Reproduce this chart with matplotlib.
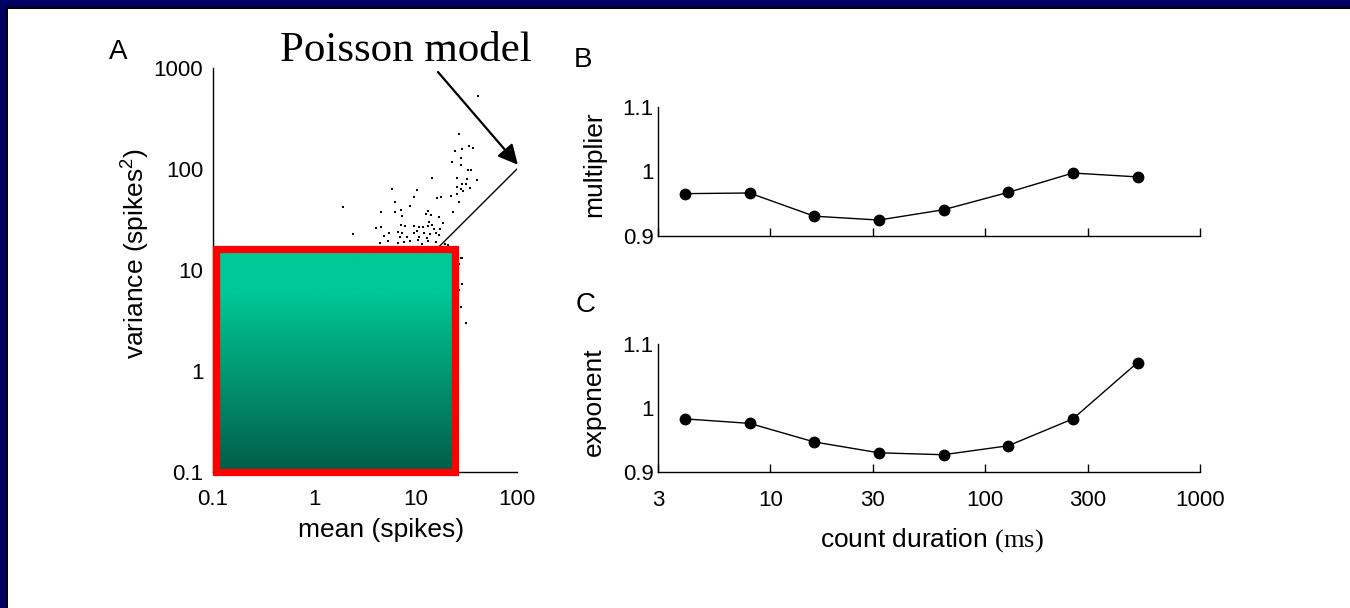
import numpy as np
import matplotlib
matplotlib.use('Agg')
import matplotlib.pyplot as plt
from matplotlib.patches import Rectangle
from matplotlib.ticker import NullFormatter

plt.rcParams['font.family'] = ['Liberation Sans', 'DejaVu Sans']
plt.rcParams['mathtext.fontset'] = 'custom'
plt.rcParams['mathtext.rm'] = 'Liberation Serif'
plt.rcParams['mathtext.sf'] = 'Liberation Sans'

# panel A: mean vs variance of spike counts (visible points only)
mean_spikes = [41.6, 26.8, 33.9, 37.2, 24.5, 28.9, 27.8, 22.7, 27.8, 33.1,
               34.9, 14.6, 25.8, 31.9, 40.6, 28.9, 31.2, 25.4, 34.1, 28.1,
               5.8, 10.2, 29.6, 25.8, 22.4, 9.6, 17.8, 16.3, 6.3, 26.8,
               1.94, 8.7, 7.1, 4.5, 6.3, 13.3, 23.5, 12.7, 14.2, 7.3,
               17.1, 13.6, 18.5, 7.1, 7.9, 9.7, 10.9, 11.9, 4.06, 4.6,
               13.2, 14.4, 15.3, 17.4, 6.7, 7.3, 9.7, 10.4, 12.2, 13.9,
               15.9, 16.9, 5.4, 4.9, 2.43, 7.0, 8.3, 10.9, 12.9, 8.8,
               7.7, 5.3, 4.4, 13.3, 15.9, 10.6, 6.7, 28.5, 27.0, 28.5,
               27.0, 27.9, 31.4, 28.0, 19.5, 21.0, 11.5]
var_spikes = [530, 222, 170, 163, 150, 156, 128, 117, 109, 98.6,
              97, 81.6, 81.6, 79.8, 78.6, 71.8, 70.6, 66.5, 65.5, 64,
              64, 61.6, 60.2, 57.1, 54.6, 53.3, 53.3, 52.1, 47.3, 47.3,
              42.2, 42.8, 39.4, 37.4, 37.4, 38.5, 37.4, 35.7, 34.7, 34.1,
              33.6, 30, 29.1, 28, 27.2, 27.2, 26.6, 26.4, 26.2, 26.8,
              27.2, 27.8, 25.2, 25.6, 23.7, 23, 23.4, 24.3, 23, 22.5,
              23, 22.3, 23, 21.7, 22.5, 21.3, 21.3, 21.3, 20.8, 19.4,
              19.1, 19.4, 18.6, 19.4, 18.9, 19.8, 18.6, 13.0, 11.5, 7.3,
              6.4, 4.3, 3.0, 13.0, 18.2, 17.6, 18.0]
poisson_line = [0.1, 100]

# panels B and C: fit parameters vs count duration
duration_ms = [4, 8, 16, 32, 64, 128, 256, 512]
multiplier = [0.965, 0.966, 0.930, 0.924, 0.940, 0.967, 0.997, 0.991]
exponent = [0.983, 0.976, 0.947, 0.930, 0.927, 0.941, 0.983, 1.071]

dur_ticks = [3, 10, 30, 100, 300, 1000]
dur_labels = ['3', '10', '30', '100', '300', '1000']
par_ticks = [0.9, 1.0, 1.1]
par_labels = ['0.9', '1', '1.1']

W, H = 1350, 608
fig = plt.figure(figsize=(W / 100, H / 100), dpi=100, facecolor='white')


def fbox(x0, y0, x1, y1):
    # pixel box (top-left origin) -> figure fraction rect
    return [x0 / W, 1 - y1 / H, (x1 - x0) / W, (y1 - y0) / H]


# slide frame (top and left)
navy = '#000060'
fig.add_artist(Rectangle((0, 1 - 7 / H), 1, 7 / H, transform=fig.transFigure,
                         facecolor=navy, edgecolor='none', zorder=0))
fig.add_artist(Rectangle((0, 1 - 8.5 / H), 1, 1.5 / H, transform=fig.transFigure,
                         facecolor='black', edgecolor='none', zorder=0))
fig.add_artist(Rectangle((0, 0), 6 / W, 1, transform=fig.transFigure,
                         facecolor=navy, edgecolor='none', zorder=0))
fig.add_artist(Rectangle((6 / W, 0), 1.5 / W, 1 - 7 / H, transform=fig.transFigure,
                         facecolor='black', edgecolor='none', zorder=0))

tick_fs = 16
label_fs = 19

# ---- panel A ----
axA = fig.add_axes(fbox(213, 68, 517, 472))
axA.scatter(mean_spikes, var_spikes, s=3.5, color='black', marker='s', linewidths=0)
axA.plot(poisson_line, poisson_line, color='black', lw=1.0)
axA.set_xscale('log')
axA.set_yscale('log')
axA.set_xlim(0.1, 100)
axA.set_ylim(0.1, 1000)
axA.set_xticks([0.1, 1, 10, 100], ['0.1', '1', '10', '100'])
axA.set_yticks([0.1, 1, 10, 100, 1000], ['0.1', '1', '10', '100', '1000'])
axA.set_xticks([100], minor=True)
axA.set_yticks([1000], minor=True)
axA.xaxis.set_minor_formatter(NullFormatter())
axA.yaxis.set_minor_formatter(NullFormatter())
axA.tick_params(which='major', length=0, labelsize=tick_fs)
axA.tick_params(axis='x', which='major', pad=12)
axA.tick_params(axis='y', which='major', pad=7)
axA.tick_params(which='minor', length=5, direction='in', width=1)
for s in ['top', 'right']:
    axA.spines[s].set_visible(False)
for s in ['left', 'bottom']:
    axA.spines[s].set_linewidth(1.0)
axA.set_xlabel('mean (spikes)', fontsize=label_fs)
axA.set_ylabel(r'variance (spikes$^{\mathsf{2}}$)', fontsize=label_fs)
axA.xaxis.set_label_coords(0.553, -0.115)
axA.yaxis.set_label_coords(-0.205, 0.54)
axA.annotate('', xy=(102, 110), xytext=(16.6, 913), xycoords='data',
             textcoords='data', annotation_clip=False,
             arrowprops=dict(arrowstyle='-|>', color='black', lw=1.6,
                             mutation_scale=30, shrinkA=0, shrinkB=0))

# gradient box with red frame covering the lower-left of panel A
axR = fig.add_axes(fbox(215.5, 248.5, 454.5, 471.5))
top_c = np.array([0, 200, 150]) / 255
bot_c = np.array([2, 94, 72]) / 255
t = np.linspace(0, 1, 256)
w = np.clip((t - 0.2) / 0.8, 0, 1)[:, None]
grad = (top_c * (1 - w) + bot_c * w)[:, None, :]
axR.imshow(grad, aspect='auto', extent=[0, 1, 0, 1])
axR.set_axis_off()
fig.add_artist(Rectangle((215.5 / W, 1 - 471.5 / H), 239 / W, 223 / H,
                         transform=fig.transFigure, facecolor='none',
                         edgecolor='#ff0000', lw=5.2, joinstyle='miter',
                         zorder=5))

fig.text(406 / W, 1 - 61 / H, 'Poisson model', family='Liberation Serif',
         fontsize=31, ha='center', va='baseline')
fig.text(118 / W, 1 - 52 / H, 'A', fontsize=20, ha='center', va='center')
fig.text(583 / W, 1 - 60 / H, 'B', fontsize=20, ha='center', va='center')
fig.text(586 / W, 1 - 305 / H, 'C', fontsize=20, ha='center', va='center')


# ---- panels B and C ----
def param_panel(box, values, ylabel, show_x):
    ax = fig.add_axes(fbox(*box))
    ax.plot(duration_ms, values, color='black', lw=1.0, marker='o',
            markersize=7.5)
    ax.set_xscale('log')
    ax.set_xlim(3, 1000)
    ax.set_ylim(0.9, 1.1)
    ax.set_xticks(dur_ticks, dur_labels if show_x else [''] * len(dur_ticks))
    ax.xaxis.set_minor_formatter(NullFormatter())
    ax.set_xticks([], minor=True)
    ax.set_yticks(par_ticks, par_labels)
    ax.set_yticks([1.1], minor=True)
    ax.tick_params(axis='x', which='major', length=6, direction='in',
                   width=1, labelsize=tick_fs, pad=13)
    ax.tick_params(axis='y', which='major', length=0, labelsize=tick_fs, pad=3)
    ax.tick_params(axis='y', which='minor', length=8, direction='in', width=1)
    for s in ['top', 'right']:
        ax.spines[s].set_visible(False)
    for s in ['left', 'bottom']:
        ax.spines[s].set_linewidth(1.0)
    ax.set_ylabel(ylabel, fontsize=label_fs)
    ax.yaxis.set_label_coords(-0.096, 0.55)
    return ax


axB = param_panel((658, 106.7, 1200, 235.5), multiplier, 'multiplier', False)
axC = param_panel((658, 344, 1200, 472), exponent, 'exponent', True)
axC.set_xlabel(r'count duration $\mathrm{(ms)}$', fontsize=label_fs)
axC.xaxis.set_label_coords(0.506, -0.42)

fig.savefig('out.png', dpi=100, facecolor='white')
